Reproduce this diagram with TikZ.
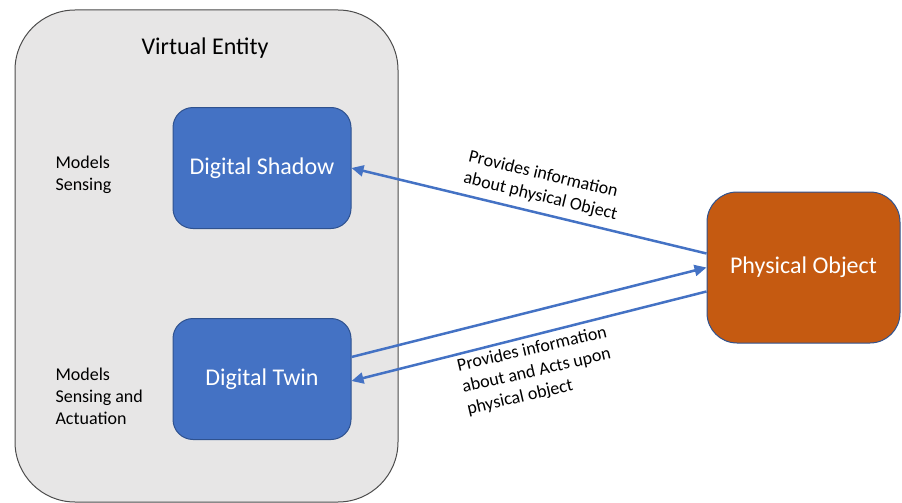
\documentclass[tikz,border=0pt]{standalone}
\usepackage{fontspec}
\setmainfont{Carlito}
\usetikzlibrary{arrows.meta,positioning}

\definecolor{veGray}{HTML}{E7E6E6}
\definecolor{dtBlue}{HTML}{4472C4}
\definecolor{dtEdge}{HTML}{2F528F}
\definecolor{poOrange}{HTML}{C55A11}

\begin{document}
\begin{tikzpicture}[
    x=1pt,y=-1pt,
    entity/.style={draw=black!70,fill=veGray,line width=1pt,rounded corners=60pt},
    twinbox/.style={draw=dtEdge,fill=dtBlue,line width=1pt,rounded corners=20pt,minimum width=178pt,minimum height=121pt,text=white,font=\fontsize{24}{28}\selectfont},
    objbox/.style={draw=dtEdge,fill=poOrange,line width=1pt,rounded corners=30pt,minimum width=193pt,minimum height=151pt,text=white,font=\fontsize{24}{28}\selectfont},
    note/.style={align=left,font=\fontsize{18}{22}\selectfont},
    arrow/.style={-{Triangle[length=12pt,width=11pt]},draw=dtBlue,line width=2.5pt}
]
\useasboundingbox (0,0) rectangle (902,503);

% Virtual entity frame
\draw[entity] (15,10) rectangle (398,502);
\node[font=\fontsize{24}{28}\selectfont] (ve) at (205,48) {Virtual Entity};

% Inner models
\node[twinbox] (ds) at (262,168) {Digital Shadow};
\node[twinbox] (dt) [below=89pt of ds] {Digital Twin};

\node[note,anchor=west] (nds) at (52,175) {Models\\Sensing};
\node[note,anchor=west] (ndt) at (52,396) {Models\\Sensing and\\Actuation};

% Physical side
\node[objbox] (po) at (803.5,267.5) {Physical Object};

% Links
\draw[arrow] ([yshift=14pt]po.west) -- (ds.east);
\draw[arrow] ([yshift=22pt]dt.east) -- (po.west);
\draw[arrow] ([yshift=-24pt]po.west) -- ([yshift=-2pt]dt.east);

\node[note,rotate=-13.5] (l1) at (543,186) {Provides information\\about physical Object};
\node[note,rotate=13] (l2) at (537,371) {Provides information\\about and Acts upon\\physical object};

\end{tikzpicture}
\end{document}
